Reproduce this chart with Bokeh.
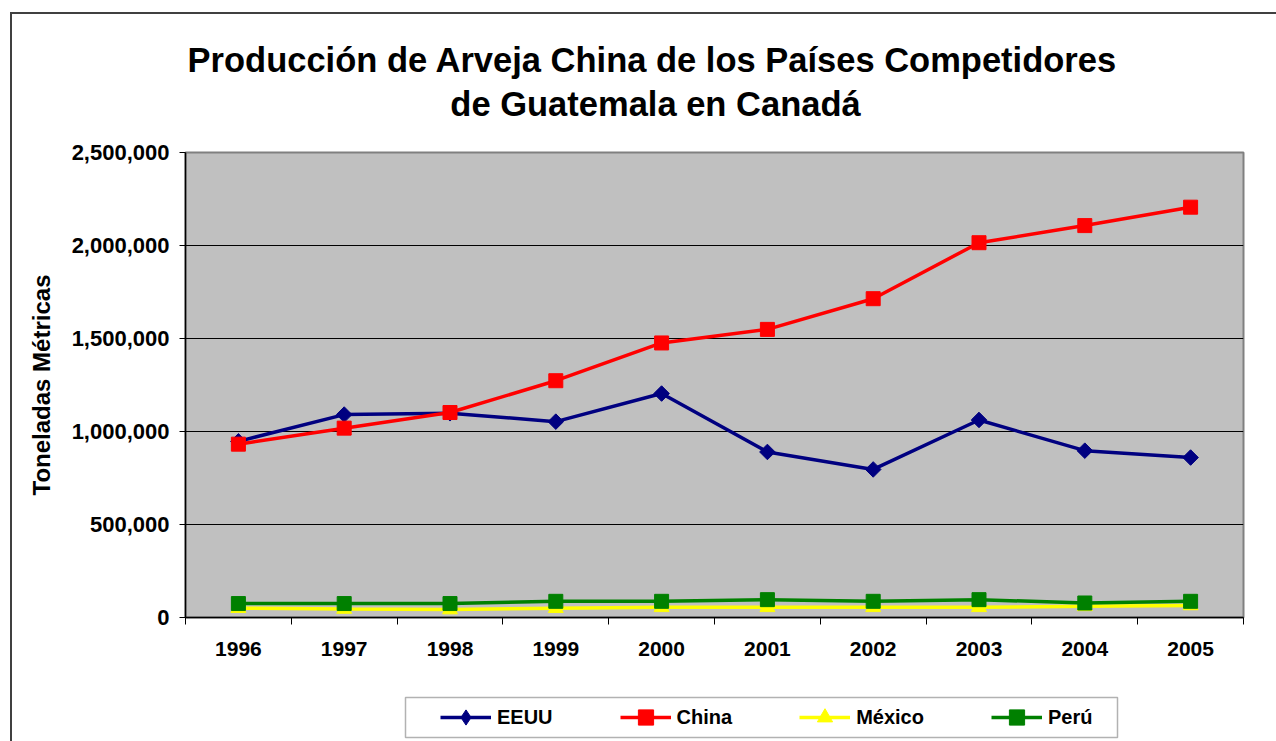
import numpy as np
from bokeh.plotting import figure
from bokeh.layouts import column
from bokeh.models import (Range1d, FixedTicker, NumeralTickFormatter, Legend,
                          LegendItem, Label, BoxAnnotation, InlineStyleSheet)
from bokeh.embed import file_html
from bokeh.resources import INLINE

# ---------------- data ----------------
years = ["1996", "1997", "1998", "1999", "2000", "2001", "2002", "2003", "2004", "2005"]
eeuu = [947000, 1091000, 1098000, 1053000, 1204000, 890000, 796000, 1062000, 897000, 860000]
china = [932000, 1018000, 1102000, 1273000, 1476000, 1549000, 1714000, 2015000, 2107000, 2206000]
mexico = [50000, 46000, 43000, 50000, 55000, 55000, 55000, 55000, 60000, 65000]
peru = [75000, 75000, 75000, 87000, 87000, 96000, 87000, 96000, 78000, 87000]
y_ticks = [0, 500000, 1000000, 1500000, 2000000, 2500000]
grid_ticks = [500000, 1000000, 1500000, 2000000]

title_1 = "Producción de Arveja China de los Países Competidores"
title_2 = "de Guatemala en Canadá"
y_label = "Toneladas Métricas"

FONT = "Liberation Sans"
W = 1276
BL, BR = 185, 33          # shared left / right borders (frames are aligned in the column)

# category positions (center of each category slot) and slot boundaries
xpos = [i + 0.5 for i in range(len(years))]
bounds = list(range(len(years) + 1))

# ---------------- title strip ----------------
tfig = figure(width=W, height=130, output_backend="svg", toolbar_location=None,
              x_range=Range1d(0, 1), y_range=Range1d(0, 1),
              x_axis_location=None, y_axis_location=None,
              min_border_left=BL, min_border_right=BR, min_border_top=0, min_border_bottom=0,
              outline_line_color=None, background_fill_color="white",
              border_fill_color="white")
tfig.grid.visible = False
tfig.add_layout(Label(x=652 - BL, y=71, x_units="screen", y_units="screen", text=title_1,
                      text_align="center", text_baseline="alphabetic", text_font=FONT,
                      text_font_style="bold", text_font_size="34.5px", text_color="black"))
tfig.add_layout(Label(x=655 - BL, y=27, x_units="screen", y_units="screen", text=title_2,
                      text_align="center", text_baseline="alphabetic", text_font=FONT,
                      text_font_style="bold", text_font_size="34.5px", text_color="black"))

# ---------------- main chart ----------------
p = figure(width=W, height=563, output_backend="svg", toolbar_location=None,
           x_range=Range1d(0, len(years)), y_range=Range1d(y_ticks[0], y_ticks[-1]),
           min_border_left=BL, min_border_right=BR, min_border_top=22,
           min_border_bottom=76,
           background_fill_color="#C0C0C0", border_fill_color="white",
           outline_line_color="#808080", outline_line_width=2)

p.xgrid.grid_line_color = None
p.ygrid.ticker = FixedTicker(ticks=grid_ticks)
p.ygrid.grid_line_color = "black"
p.ygrid.grid_line_width = 1

xa = p.xaxis[0]
xa.ticker = FixedTicker(ticks=xpos, minor_ticks=bounds)
xa.major_label_overrides = {float(x): y for x, y in zip(xpos, years)}
xa.major_tick_line_color = None
xa.major_tick_in = 0
xa.major_tick_out = 0
xa.minor_tick_in = 0
xa.minor_tick_out = 7
xa.minor_tick_line_color = "black"
xa.axis_line_color = "black"
xa.axis_line_width = 1.5
xa.major_label_standoff = 17
xa.major_label_text_font = FONT
xa.major_label_text_font_style = "bold"
xa.major_label_text_font_size = "21px"
xa.major_label_text_color = "black"

ya = p.yaxis[0]
ya.ticker = FixedTicker(ticks=y_ticks)
ya.formatter = NumeralTickFormatter(format="0,0")
ya.major_tick_in = 0
ya.major_tick_out = 6
ya.major_tick_line_color = "black"
ya.minor_tick_line_color = None
ya.axis_line_color = "black"
ya.axis_line_width = 1.5
ya.major_label_standoff = 10
ya.major_label_text_font = FONT
ya.major_label_text_font_style = "bold"
ya.major_label_text_font_size = "22px"
ya.major_label_text_color = "black"
ya.axis_label = y_label
ya.axis_label_text_font = FONT
ya.axis_label_text_font_style = "bold"
ya.axis_label_text_font_size = "24px"
ya.axis_label_text_color = "black"
ya.axis_label_standoff = 14

series = [
    ("EEUU", eeuu, "#000080", dict(marker="square", angle=np.pi / 4, size=11), "diamond"),
    ("China", china, "#FF0000", dict(marker="square", size=14), "square"),
    ("México", mexico, "#FFFF00", dict(marker="triangle", size=15), "triangle"),
    ("Perú", peru, "#008000", dict(marker="square", size=14), "square"),
]
for name, vals, col, mk, _ in series:
    p.line(xpos, vals, line_color=col, line_width=3.5)
    p.scatter(xpos, vals, fill_color=col, line_color=col, **mk)

# ---------------- legend strip ----------------
lfig = figure(width=W, height=48, output_backend="svg", toolbar_location=None,
              x_range=Range1d(0, 1), y_range=Range1d(0, 1),
              x_axis_location=None, y_axis_location=None,
              min_border_left=BL, min_border_right=BR, min_border_top=0, min_border_bottom=0,
              outline_line_color=None,
              background_fill_color="white", border_fill_color="white")
lfig.grid.visible = False

# legend frame (screen px relative to the strip's frame, y measured upward)
lfig.add_layout(BoxAnnotation(left=405 - BL, right=1117 - BL, top=44, bottom=4,
                              left_units="screen", right_units="screen",
                              top_units="screen", bottom_units="screen",
                              fill_alpha=0, line_color="black", line_width=1.5))

items = []
for name, vals, col, mk, lmk in series:
    # legend-only swatches (a single NaN point, nothing is drawn in the strip)
    rl = lfig.line(x=[np.nan], y=[np.nan], line_color=col, line_width=3.5)
    rm = lfig.scatter(x=[np.nan], y=[np.nan], marker=lmk, fill_color=col, line_color=col)
    items.append(LegendItem(label=name, renderers=[rl, rm]))
legend = Legend(items=items, orientation="horizontal", location=(440 - BL, 5),
                glyph_width=51, glyph_height=38, label_standoff=6, spacing=67,
                padding=0, margin=0, border_line_color=None,
                background_fill_alpha=0,
                label_text_font=FONT, label_text_font_style="bold",
                label_text_font_size="20px", label_text_color="black")
lfig.add_layout(legend, "center")

layout = column(tfig, p, lfig, spacing=0)
# outer chart border (left/top edges visible, rest cropped)
layout.stylesheets = [InlineStyleSheet(css="""
:host { position: relative; }
:host::after { content: ''; position: absolute; left: 10px; top: 12px; right: 0px; bottom: 0px;
  border-left: 2px solid #404040; border-top: 2px solid #404040; pointer-events: none; }
""")]

open("out.html", "w").write(file_html(layout, INLINE))
